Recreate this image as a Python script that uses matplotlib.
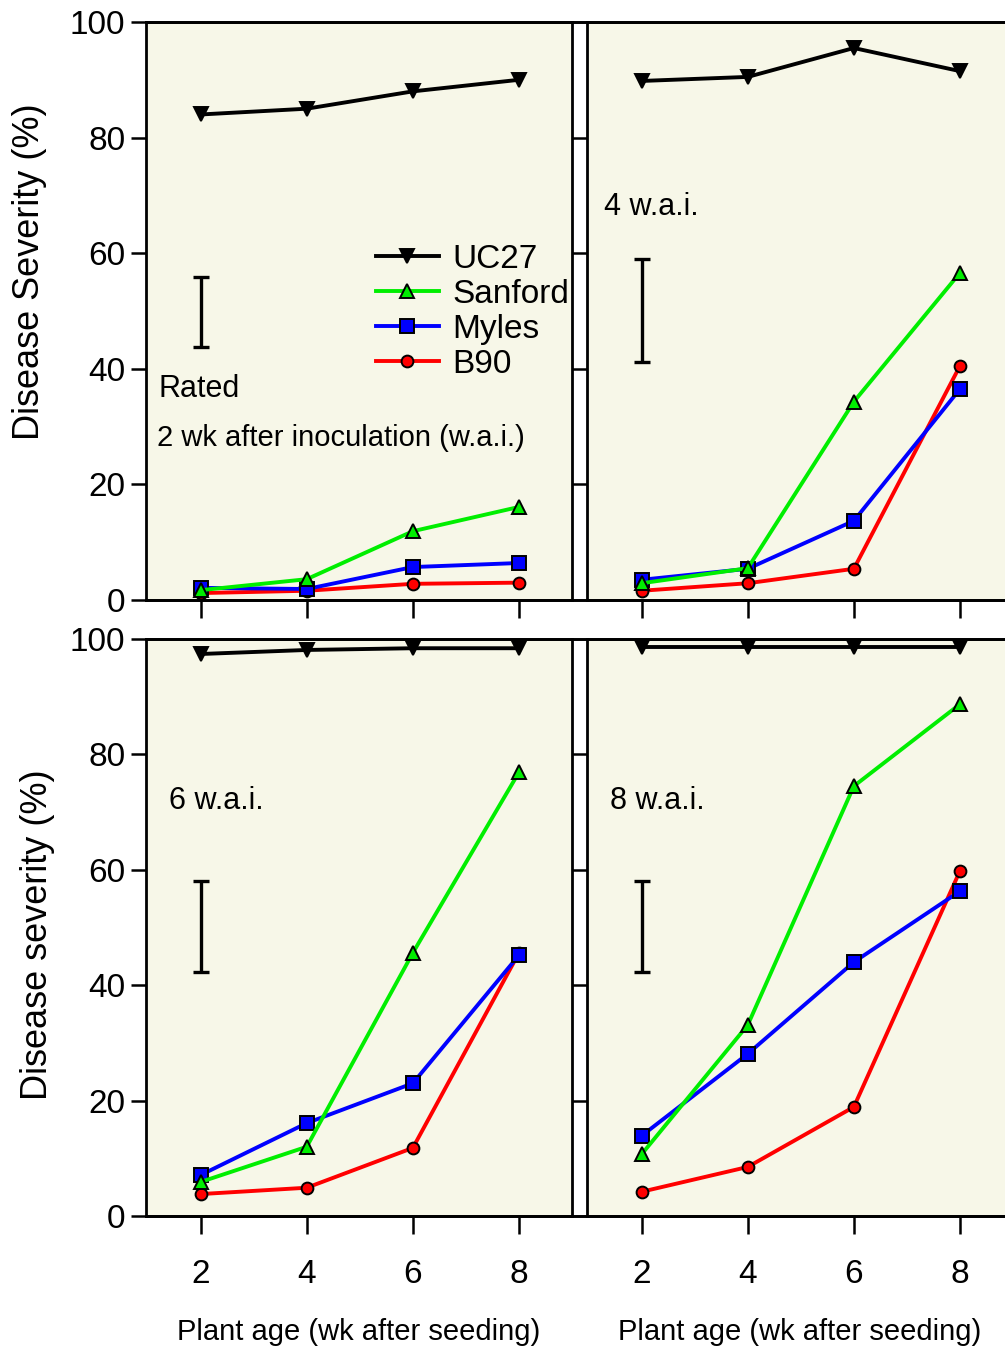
import matplotlib
matplotlib.use('Agg')
import matplotlib.pyplot as plt
from matplotlib import font_manager
from matplotlib.lines import Line2D

# 字体：尽量用窄体 Arial 风格
names = {f.name for f in font_manager.fontManager.ttflist}
font = 'Liberation Sans Narrow' if 'Liberation Sans Narrow' in names else 'Liberation Sans'
plt.rcParams['font.family'] = [font, 'DejaVu Sans']

weeks = [2, 4, 6, 8]
cultivars = ['UC27', 'Sanford', 'Myles', 'B90']
panel_labels = ['2 wk after inoculation (w.a.i.)', '4 w.a.i.', '6 w.a.i.', '8 w.a.i.']

# 各面板数据 (病情严重度 %)
uc27_2 = [84, 85, 88, 90]
sanford_2 = [1.7, 3.6, 11.9, 16.1]
myles_2 = [2.1, 1.9, 5.7, 6.4]
b90_2 = [1.2, 1.6, 2.8, 3.0]

uc27_4 = [89.8, 90.5, 95.5, 91.5]
sanford_4 = [2.9, 5.5, 34.3, 56.6]
myles_4 = [3.5, 5.4, 13.7, 36.5]
b90_4 = [1.6, 2.9, 5.4, 40.5]

uc27_6 = [97.4, 98.1, 98.4, 98.4]
sanford_6 = [5.9, 12.0, 45.6, 76.9]
myles_6 = [7.1, 16.1, 23.0, 45.2]
b90_6 = [3.8, 4.9, 11.8, 45.6]

uc27_8 = [98.6, 98.6, 98.6, 98.6]
sanford_8 = [10.7, 33.1, 74.5, 88.7]
myles_8 = [13.9, 28.1, 44.0, 56.3]
b90_8 = [4.2, 8.5, 18.9, 59.8]

# LSD 竖条 (下端, 上端)
bar_lo = [43.8, 41.2, 42.3, 42.3]
bar_hi = [55.9, 59.0, 58.1, 58.1]

data = [
    [uc27_2, sanford_2, myles_2, b90_2],
    [uc27_4, sanford_4, myles_4, b90_4],
    [uc27_6, sanford_6, myles_6, b90_6],
    [uc27_8, sanford_8, myles_8, b90_8],
]

colors = ['black', '#00ee00', '#0000ff', '#ff0000']
markers = ['v', '^', 's', 'o']
bg = '#f7f7e8'

W, H = 1005, 1360
fig = plt.figure(figsize=(W / 100, H / 100), dpi=100)

# 面板像素位置 (left, top, right, bottom)
boxes = [(146, 22, 572, 600), (587, 22, 1013, 600),
         (146, 639, 572, 1216), (587, 639, 1013, 1216)]
axes = []
for (l, t, r, b) in boxes:
    ax = fig.add_axes([l / W, 1 - b / H, (r - l) / W, (b - t) / H])
    axes.append(ax)

for i, ax in enumerate(axes):
    ax.set_facecolor(bg)
    for j, name in enumerate(cultivars):
        ax.plot(weeks, data[i][j], color=colors[j], lw=2.8, marker=markers[j],
                markersize=10 if markers[j] != 'o' else 8.5,
                markerfacecolor=colors[j], markeredgecolor='black',
                markeredgewidth=1.4, label=name, zorder=3 + (3 - j) * 0.1,
                clip_on=False)
    # LSD bar
    mid = (bar_lo[i] + bar_hi[i]) / 2
    half = (bar_hi[i] - bar_lo[i]) / 2
    ax.errorbar([2], [mid], yerr=[half], fmt='none', ecolor='black',
                elinewidth=2.4, capsize=6, capthick=2.4)
    ax.set_xlim(0.97, 9.0)
    ax.set_ylim(0, 100)
    ax.set_xticks(weeks)
    ax.set_yticks([0, 20, 40, 60, 80, 100])
    ax.tick_params(direction='out', width=1.8, labelsize=24)
    ax.tick_params(axis='x', length=13, pad=18)
    ax.tick_params(axis='y', length=11, pad=4)
    for s in ax.spines.values():
        s.set_linewidth(2)
    if i in (1, 3):
        ax.tick_params(axis='y', labelleft=False)
        ax.spines['right'].set_visible(False)
    if i in (0, 1):
        ax.tick_params(axis='x', labelbottom=False)
    else:
        ax.set_xlabel('Plant age (wk after seeding)', fontsize=21, labelpad=20)

# 面板文字
axes[0].text(0.03, 0.365, 'Rated', transform=axes[0].transAxes, fontsize=22,
             va='center', ha='left')
axes[0].text(0.025, 0.28, panel_labels[0], transform=axes[0].transAxes,
             fontsize=21, va='center', ha='left')
axes[1].text(0.04, 0.68, panel_labels[1], transform=axes[1].transAxes,
             fontsize=22, va='center', ha='left')
axes[2].text(0.055, 0.72, panel_labels[2], transform=axes[2].transAxes,
             fontsize=22, va='center', ha='left')
axes[3].text(0.055, 0.72, panel_labels[3], transform=axes[3].transAxes,
             fontsize=22, va='center', ha='left')

axes[0].legend(loc='upper left', bbox_to_anchor=(0.50, 0.645), frameon=False,
               fontsize=24, handlelength=1.9, handletextpad=0.4,
               labelspacing=0.12, borderpad=0)

fig.text(30 / W, 1 - 272 / H, 'Disease Severity (%)', rotation=90,
         fontsize=26, ha='center', va='center')
fig.text(38 / W, 1 - 935 / H, 'Disease severity (%)', rotation=90,
         fontsize=26, ha='center', va='center')

# 连接面板之间的水平边框
for y in (22, 600, 639, 1216):
    fig.add_artist(Line2D([146 / W, 1], [1 - y / H, 1 - y / H],
                          color='black', lw=2))

fig.savefig('out.png', dpi=100)
